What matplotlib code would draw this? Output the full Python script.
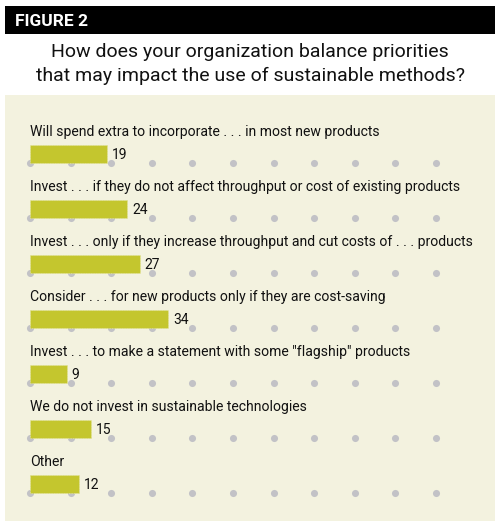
import matplotlib
matplotlib.use("Agg")
import matplotlib.pyplot as plt
from matplotlib.patches import Rectangle

categories = [
    "Will spend extra to incorporate . . . in most new products",
    "Invest . . . if they do not affect throughput or cost of existing products",
    "Invest . . . only if they increase throughput and cut costs of . . . products",
    "Consider . . . for new products only if they are cost-saving",
    "Invest . . . to make a statement with some \"flagship\" products",
    "We do not invest in sustainable technologies",
    "Other",
]
values = [19, 24, 27, 34, 9, 15, 12]
grid_ticks = [0, 10, 20, 30, 40, 50, 60, 70, 80, 90, 100]

FONT = "Roboto"
LBL_SIZE, VAL_SIZE = 10.1, 10

W, H = 500, 528
fig = plt.figure(figsize=(W / 100, H / 100), dpi=100)
fig.patch.set_facecolor("white")

def fx(px):
    return px / W

def fy(py):
    return 1 - py / H

# Black header band
fig.patches.append(Rectangle((fx(5), fy(34)), fx(490), 28 / H, transform=fig.transFigure,
                             facecolor="black", edgecolor="none", zorder=0))
fig.text(fx(15), fy(21), "FIGURE 2", color="white", fontsize=12.5, fontweight="bold",
         family=FONT, va="center", ha="left")
fig.text(0.5, fy(52), "How does your organization balance priorities",
         fontsize=14, family=FONT, ha="center", va="center", color="#111111")
fig.text(0.5, fy(76), "that may impact the use of sustainable methods?",
         fontsize=14, family=FONT, ha="center", va="center", color="#111111")

# Panel axes
px0, px1, py0, py1 = 5, 495, 95, 521
ax = fig.add_axes([fx(px0), fy(py1), (px1 - px0) / W, (py1 - py0) / H])
ax.set_facecolor("#f3f2df")
for s in ax.spines.values():
    s.set_visible(False)
ax.set_xticks([])
ax.set_yticks([])

scale = 4.06  # px per unit
row0, rowstep = 163, 55
ax.set_xlim((px0 - 30) / scale, (px1 - 30) / scale)
ax.set_ylim((py1 - row0) / rowstep, (py0 - row0) / rowstep)

bar_h = 18 / rowstep
n = len(categories)
rows = list(range(n))
for r in rows:
    ax.scatter(grid_ticks, [r] * len(grid_ticks), s=26, color="#c2c2c6", zorder=1,
               linewidths=0)
ax.barh([r - bar_h / 2 for r in rows], values, height=bar_h, color="#c4c62e",
        edgecolor="#e2e39a", linewidth=0.6, linestyle=(0, (1, 1)), zorder=2)
for r, c, v in zip(rows, categories, values):
    ax.text(0, r - 31 / rowstep, c, fontsize=LBL_SIZE, family=FONT, ha="left",
            va="center", color="#111111")
    ax.text(v + 1.2, r - bar_h / 2 + 0.02, str(v), fontsize=VAL_SIZE, family=FONT,
            ha="left", va="center", color="#111111")

fig.savefig("out.png", dpi=100)
